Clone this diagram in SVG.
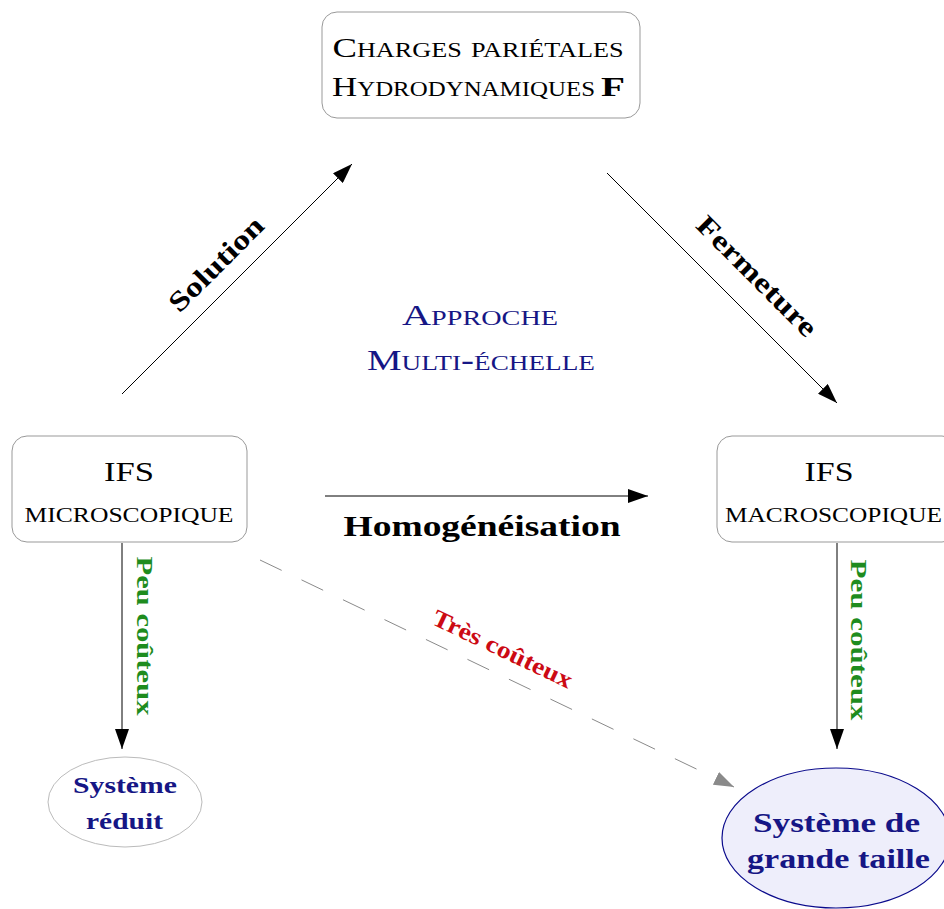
<svg xmlns="http://www.w3.org/2000/svg" width="944" height="909" viewBox="0 0 944 909">
<defs>
<style>
text{font-family:"Liberation Serif","Times New Roman",serif;fill:#000}
.box{fill:#fff;stroke:#999;stroke-width:1}
.sc{font-variant:small-caps}
.b{font-weight:bold}
.navy{fill:#161685}
.green{fill:#1e8c1e}
.red{fill:#cc0a14}
.edge{stroke:#000;stroke-width:1;fill:none}
.dash{stroke:#8a8a8a;stroke-width:1;fill:none;stroke-dasharray:24 22}
</style>
<marker id="ah" viewBox="0 0 20 14" refX="20" refY="7" markerWidth="20" markerHeight="14" markerUnits="userSpaceOnUse" orient="auto">
<path d="M0,0 L20,7 L0,14 Z" fill="#000"/>
</marker>
<marker id="ahg" viewBox="0 0 20 14" refX="20" refY="7" markerWidth="20" markerHeight="14" markerUnits="userSpaceOnUse" orient="auto">
<path d="M0,0 L20,7 L0,14 Z" fill="#8a8a8a"/>
</marker>
</defs>

<g id="connectors">
<line class="edge" x1="122" y1="394" x2="352" y2="164" marker-end="url(#ah)"/>
<text class="b" font-size="28" text-anchor="middle" transform="translate(216,264) rotate(-45)" x="0" y="9.5" textLength="122" lengthAdjust="spacingAndGlyphs">Solution</text>
<line class="edge" x1="607" y1="173" x2="837" y2="403" marker-end="url(#ah)"/>
<text class="b" font-size="28" text-anchor="middle" transform="translate(757,276) rotate(45)" x="0" y="9.5" textLength="158" lengthAdjust="spacingAndGlyphs">Fermeture</text>
<line class="edge" x1="325" y1="496" x2="648" y2="496" marker-end="url(#ah)"/>
<text class="b" font-size="30" text-anchor="middle" x="482" y="536" textLength="277" lengthAdjust="spacingAndGlyphs">Homogénéisation</text>
<line class="edge" x1="122" y1="543" x2="122" y2="749" marker-end="url(#ah)"/>
<text class="b green" font-size="24" text-anchor="middle" transform="translate(146,636) rotate(90)" x="0" y="9" textLength="159" lengthAdjust="spacingAndGlyphs">Peu coûteux</text>
<line class="edge" x1="837" y1="543" x2="837" y2="749" marker-end="url(#ah)"/>
<text class="b green" font-size="24" text-anchor="middle" transform="translate(860,640) rotate(90)" x="0" y="9" textLength="161" lengthAdjust="spacingAndGlyphs">Peu coûteux</text>
<line class="dash" x1="260" y1="560" x2="734" y2="787" marker-end="url(#ahg)"/>
<text class="b red" font-size="24" text-anchor="middle" transform="translate(503,648) rotate(25.4)" x="0" y="9" textLength="152" lengthAdjust="spacingAndGlyphs">Très coûteux</text>
</g>

<g id="label-approche">
<text class="sc navy" font-size="30" text-anchor="middle" x="480" y="325" textLength="156" lengthAdjust="spacingAndGlyphs">Approche</text>
<text class="sc navy" font-size="30" text-anchor="middle" x="481" y="370" textLength="228" lengthAdjust="spacingAndGlyphs">Multi-échelle</text>
</g>

<g id="node-charges">
<rect class="box" x="322" y="12" width="318" height="106" rx="15"/>
<text class="sc" font-size="28" text-anchor="middle" x="478" y="57" textLength="291" lengthAdjust="spacingAndGlyphs">Charges pariétales</text>
<text class="sc" font-size="28" x="332" y="96" textLength="263" lengthAdjust="spacingAndGlyphs">Hydrodynamiques</text>
<text class="b" font-size="28" x="601" y="96" textLength="24" lengthAdjust="spacingAndGlyphs">F</text>
</g>

<g id="node-micro">
<rect class="box" x="12" y="436" width="235" height="106" rx="15"/>
<text font-size="28" text-anchor="middle" x="129" y="481" textLength="50" lengthAdjust="spacingAndGlyphs">IFS</text>
<text class="sc" font-size="28" text-anchor="middle" x="129" y="522" textLength="209" lengthAdjust="spacingAndGlyphs">microscopique</text>
</g>

<g id="node-macro">
<rect class="box" x="717" y="436" width="240" height="106" rx="15"/>
<text font-size="28" text-anchor="middle" x="829" y="481" textLength="49" lengthAdjust="spacingAndGlyphs">IFS</text>
<text class="sc" font-size="28" x="725" y="522" textLength="217" lengthAdjust="spacingAndGlyphs">macroscopique</text>
</g>

<g id="node-reduit">
<ellipse cx="125" cy="802" rx="77" ry="45" fill="#fff" stroke="#bbb" stroke-width="1"/>
<text class="b navy" font-size="23" text-anchor="middle" x="125" y="793" textLength="104" lengthAdjust="spacingAndGlyphs">Système</text>
<text class="b navy" font-size="23" text-anchor="middle" x="124.5" y="829" textLength="77" lengthAdjust="spacingAndGlyphs">réduit</text>
</g>

<g id="node-grande">
<ellipse cx="836" cy="838" rx="114" ry="70" fill="#eeeefb" stroke="#0a0a8c" stroke-width="1.2"/>
<text class="b navy" font-size="27" text-anchor="middle" x="836.5" y="832" textLength="167" lengthAdjust="spacingAndGlyphs">Système de</text>
<text class="b navy" font-size="27" text-anchor="middle" x="838.5" y="868" textLength="183" lengthAdjust="spacingAndGlyphs">grande taille</text>
</g>
</svg>
